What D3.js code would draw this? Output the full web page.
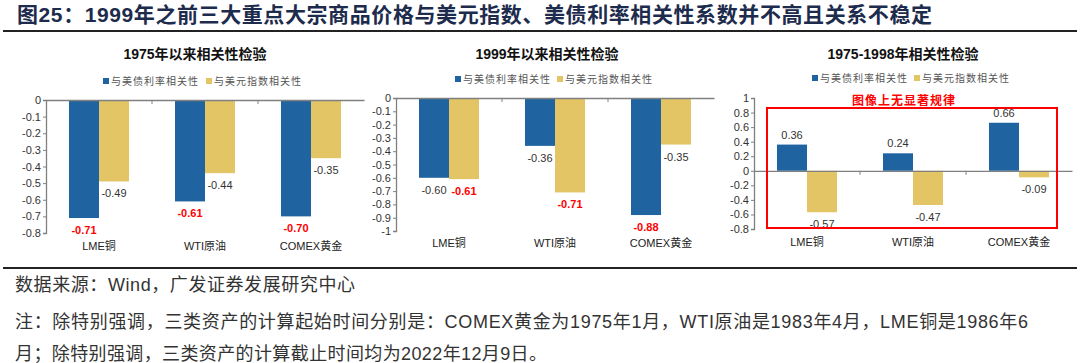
<!DOCTYPE html>
<html lang="zh">
<head>
  <meta charset="UTF-8">
  <title>相关性检验</title>
  <style>
    body { margin: 0; background: #fff; }
    svg { display: block; }
    text { font-family: Arial, "Liberation Sans", "Noto Sans CJK SC", sans-serif; }
  </style>
</head>
<body>
  <svg id="chart" width="1080" height="363"></svg>

  <script src="https://cdn.jsdelivr.net/npm/d3@7"></script>
  <script>
    // Data
    const categories = ['LME铜', 'WTI原油', 'COMEX黄金']
    const seriesNames = ['与美债利率相关性', '与美元指数相关性']

    const since1975Rates = [-0.71, -0.61, -0.70]
    const since1975Dollar = [-0.49, -0.44, -0.35]
    const since1999Rates = [-0.60, -0.36, -0.88]
    const since1999Dollar = [-0.61, -0.71, -0.35]
    const before1999Rates = [0.36, 0.24, 0.66]
    const before1999Dollar = [-0.57, -0.47, -0.09]

    const ticks1975 = [0, -0.1, -0.2, -0.3, -0.4, -0.5, -0.6, -0.7, -0.8]
    const ticks1999 = [0, -0.1, -0.2, -0.3, -0.4, -0.5, -0.6, -0.7, -0.8, -0.9, -1]
    const ticksEarly = [1, 0.8, 0.6, 0.4, 0.2, 0, -0.2, -0.4, -0.6, -0.8]

    // which labels are red in the source
    const redRates1975 = [true, true, true]
    const redDollar1999 = [true, true, false]
    const redRates1999 = [false, false, true]

    const colors = ['#1f64a0', '#e3c566']
    const svg = d3.select('#chart')

    // plain hyphen minus, like the source
    const locale = d3.formatLocale({ decimal: '.', thousands: ',', grouping: [3], currency: ['', ''], minus: '-' })
    const fmt = locale.format('.2f')
    const tickFmt = d => String(+d.toFixed(1))

    // Header
    svg.append('text')
      .attr('x', 17).attr('y', 22)
      .attr('font-size', 21).attr('font-weight', 'bold')
      .attr('fill', '#1d2b4c')
      .attr('textLength', 915).attr('lengthAdjust', 'spacing')
      .text('图25：1999年之前三大重点大宗商品价格与美元指数、美债利率相关性系数并不高且关系不稳定')

    svg.append('line').attr('x1', 3).attr('x2', 1077).attr('y1', 31).attr('y2', 31)
      .attr('stroke', '#222').attr('stroke-width', 2)
    svg.append('line').attr('x1', 3).attr('x2', 1077).attr('y1', 268).attr('y2', 268)
      .attr('stroke', '#222').attr('stroke-width', 2)

    function drawPanel(opt) {
      const g = svg.append('g')
      const x = d3.scaleBand().domain(categories).range([opt.x0, opt.x0 + 318])
      const bw = x.bandwidth()
      const xSub = d3.scaleBand().domain([0, 1]).range([bw / 2 - 30, bw / 2 + 30])
      const y = d3.scaleLinear().domain(opt.domain).range(opt.range)

      // title
      g.append('text')
        .attr('x', opt.titleX).attr('y', 59)
        .attr('text-anchor', 'middle')
        .attr('font-size', 14).attr('font-weight', 'bold').attr('fill', '#111')
        .text(opt.title)

      // legend
      seriesNames.forEach((name, i) => {
        const lx = opt.legendX[i]
        g.append('rect').attr('x', lx).attr('y', opt.legendY - 3)
          .attr('width', 6).attr('height', 6).attr('fill', colors[i])
        g.append('text').attr('x', lx + 8).attr('y', opt.legendY + 3.5)
          .attr('font-size', 10).attr('letter-spacing', 1).attr('fill', '#555')
          .text(name)
      })

      // y axis
      const yAxis = d3.axisLeft(y).tickValues(opt.ticks).tickSize(3).tickFormat(tickFmt)
      const ya = g.append('g').attr('transform', `translate(${opt.x0},0)`).call(yAxis)
      ya.select('.domain').attr('stroke', '#808080').attr('stroke-width', 1.3)
      ya.selectAll('.tick line').attr('stroke', '#808080')
      ya.selectAll('.tick text').attr('font-size', 11).attr('fill', '#333')
        .attr('font-family', 'Arial, "Liberation Sans", sans-serif').attr('x', -5)

      // bars
      const series = [opt.rates, opt.dollar]
      series.forEach((vals, s) => {
        g.selectAll(null)
          .data(vals)
          .enter()
          .append('rect')
          .attr('x', (d, i) => x(categories[i]) + xSub(s))
          .attr('y', d => y(Math.max(0, d)))
          .attr('width', xSub.bandwidth())
          .attr('height', d => Math.abs(y(d) - y(0)))
          .attr('fill', colors[s])

        g.selectAll(null)
          .data(vals)
          .enter()
          .append('text')
          .attr('x', (d, i) => x(categories[i]) + xSub(s) + xSub.bandwidth() / 2)
          .attr('y', d => d < 0 ? y(d) + 16 : y(d) - 6)
          .attr('text-anchor', 'middle')
          .attr('font-size', 11)
          .attr('font-weight', (d, i) => opt.red[s][i] ? 'bold' : 'normal')
          .attr('fill', (d, i) => opt.red[s][i] ? '#ff0000' : '#333')
          .text(d => fmt(d))
      })

      // zero line with category ticks
      const xa = g.append('g').attr('transform', `translate(0,${y(0)})`)
        .call(d3.axisBottom(x).tickValues([]).tickSizeOuter(0))
      xa.select('.domain').attr('stroke', '#808080').attr('stroke-width', 1.3)
      ;[1, 2].forEach(i => {
        xa.append('line').attr('x1', opt.x0 + bw * i).attr('x2', opt.x0 + bw * i)
          .attr('y1', 0).attr('y2', 4).attr('stroke', '#808080')
      })

      // category labels
      g.selectAll(null)
        .data(categories)
        .enter()
        .append('text')
        .attr('x', d => x(d) + bw / 2)
        .attr('y', opt.catY)
        .attr('text-anchor', 'middle')
        .attr('font-size', 11).attr('fill', '#222')
        .text(d => d)

      return { x, y, g }
    }

    drawPanel({
      x0: 46, domain: [-0.8, 0], range: [233, 100], ticks: ticks1975,
      title: '1975年以来相关性检验', titleX: 195, legendX: [103, 206], legendY: 81,
      rates: since1975Rates, dollar: since1975Dollar,
      red: [redRates1975, [false, false, false]], catY: 250
    })

    drawPanel({
      x0: 396, domain: [-1, 0], range: [231, 98], ticks: ticks1999,
      title: '1999年以来相关性检验', titleX: 547, legendX: [455, 557], legendY: 79,
      rates: since1999Rates, dollar: since1999Dollar,
      red: [redRates1999, redDollar1999], catY: 247
    })

    const p3 = drawPanel({
      x0: 754, domain: [-0.8, 1], range: [229, 98], ticks: ticksEarly,
      title: '1975-1998年相关性检验', titleX: 903, legendX: [812, 914], legendY: 78,
      rates: before1999Rates, dollar: before1999Dollar,
      red: [[false, false, false], [false, false, false]], catY: 246
    })

    // highlight box
    p3.g.append('rect')
      .attr('x', 767).attr('y', 108).attr('width', 290).attr('height', 120)
      .attr('fill', 'none').attr('stroke', '#ff0000').attr('stroke-width', 2)
    p3.g.append('text')
      .attr('x', 904).attr('y', 105)
      .attr('text-anchor', 'middle')
      .attr('font-size', 12).attr('font-weight', 'bold').attr('letter-spacing', 1)
      .attr('fill', '#ff0000')
      .text('图像上无显著规律')

    // footer notes
    const notes = [
      { text: '数据来源：Wind，广发证券发展研究中心', y: 291, len: 340 },
      { text: '注：除特别强调，三类资产的计算起始时间分别是：COMEX黄金为1975年1月，WTI原油是1983年4月，LME铜是1986年6', y: 328, len: 1013 },
      { text: '月；除特别强调，三类资产的计算截止时间均为2022年12月9日。', y: 360, len: 532 }
    ]
    svg.selectAll('.note')
      .data(notes)
      .enter()
      .append('text')
      .attr('class', 'note')
      .attr('x', 15).attr('y', d => d.y)
      .attr('font-size', 18).attr('fill', '#333')
      .attr('textLength', d => d.len).attr('lengthAdjust', 'spacing')
      .text(d => d.text)
  </script>
</body>
</html>
